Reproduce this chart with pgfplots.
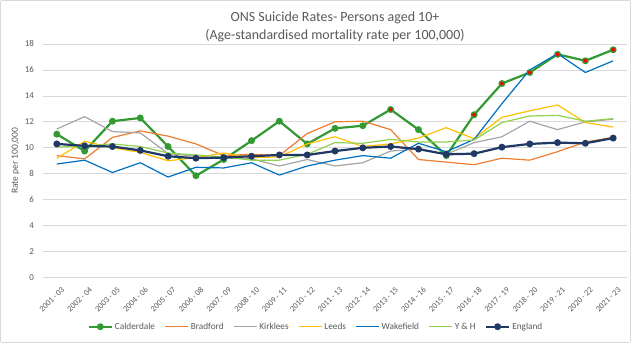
\documentclass[border=0pt]{standalone}
\usepackage{fontspec}
\setmainfont{Carlito}
\usepackage{pgfplots}
\usepackage{pgfplotstable}
\pgfplotsset{compat=1.18}
\definecolor{calc}{HTML}{339933}
\definecolor{brac}{HTML}{ED7D31}
\definecolor{kirc}{HTML}{A5A5A5}
\definecolor{leec}{HTML}{FFC000}
\definecolor{wakc}{HTML}{0070C0}
\definecolor{yhc}{HTML}{92D050}
\definecolor{engc}{HTML}{203864}
\definecolor{txtc}{HTML}{595959}
\definecolor{gridc}{HTML}{D9D9D9}

\pgfplotstableread{
x cal bra kir lee wak yh eng
0 11.05 9.40 11.45 9.20 8.75 10.05 10.30
1 9.75 9.15 12.40 10.50 9.05 10.15 10.15
2 12.05 10.80 11.25 10.00 8.10 10.30 10.10
3 12.30 11.30 11.15 9.65 8.85 10.10 9.80
4 10.10 10.90 9.55 9.00 7.75 9.60 9.35
5 7.85 10.30 9.35 9.25 8.50 9.45 9.20
6 9.10 9.40 9.20 9.60 8.45 9.30 9.25
7 10.55 9.50 9.15 9.25 8.85 9.05 9.35
8 12.05 9.40 8.60 9.30 7.90 9.05 9.45
9 10.30 11.10 9.10 10.30 8.60 9.50 9.45
10 11.50 12.00 8.60 10.85 9.05 10.40 9.75
11 11.70 12.05 8.85 10.10 9.40 10.35 10.00
12 12.95 11.40 9.75 10.30 9.20 10.65 10.10
13 11.40 9.10 9.90 10.75 10.35 10.45 9.90
14 9.40 8.90 9.50 11.55 9.70 10.45 9.50
15 12.55 8.70 10.40 10.70 10.65 10.60 9.55
16 14.95 9.20 10.85 12.35 13.40 11.95 10.05
17 15.80 9.05 12.05 12.85 16.00 12.45 10.30
18 17.20 9.70 11.40 13.30 17.25 12.50 10.40
19 16.70 10.45 12.00 11.95 15.80 12.05 10.35
20 17.55 10.80 12.20 11.60 16.70 12.25 10.75
}\data

\begin{document}
\begin{tikzpicture}[x=1bp,y=1bp]
\draw[gridc, line width=0.8bp, rounded corners=2bp] (-42.5,-64.8) rectangle (587.5,277.2);
\begin{axis}[
  at={(0,0)}, anchor=south west,
  scale only axis, width=584bp, height=233.7bp,
  clip mode=individual,
  xmin=-0.5, xmax=20.5, ymin=0, ymax=18,
  ytick={0,2,...,18},
  xtick={0,...,20},
  xticklabels={2001 - 03,2002 - 04,2003 - 05,2004 - 06,2005 - 07,2006 - 08,2007 - 09,2008 - 10,2009 - 11,2010 - 12,2011 - 13,2012 - 14,2013 - 15,2014 - 16,2015 - 17,2016 - 18,2017 - 19,2018 - 20,2019 - 21,2020 - 22,2021 - 23},
  ymajorgrids, grid style={gridc, line width=0.7bp},
  axis line style={draw=none}, major tick length=0,
  yticklabel style={font=\fontsize{9}{10}\selectfont, text=txtc, xshift=-5.5bp},
  xticklabel style={rotate=45, anchor=north east, font=\fontsize{8.3}{9}\selectfont, text=txtc, inner sep=0pt, xshift=-3bp, yshift=-9bp},
  /pgf/number format/assume math mode=true,
  ylabel={Rate per 100,000},
  ylabel style={font=\fontsize{9.5}{10}\selectfont, text=txtc, at={(axis description cs:-0.047,0.5)}, anchor=center},
  legend columns=7,
  legend style={at={(axis description cs:0.4675,-0.2097)}, anchor=center, draw=none, fill=none, font=\fontsize{9.3}{11}\selectfont, text=txtc, /tikz/every even column/.append style={column sep=7.5bp}},
  legend image code/.code={\draw[mark repeat=2,mark phase=2,#1] plot coordinates {(0bp,0bp)(11.5bp,0bp)(23bp,0bp)};},
  legend cell align=left,
]
\addplot[calc, line width=2.2bp, mark=*, mark size=2.3bp, mark options={fill=calc, draw=calc}] table[x=x,y=cal]{\data};
\addlegendentry{Calderdale}
\addplot[brac, line width=1.2bp] table[x=x,y=bra]{\data};
\addlegendentry{Bradford}
\addplot[kirc, line width=1.2bp] table[x=x,y=kir]{\data};
\addlegendentry{Kirklees}
\addplot[leec, line width=1.2bp] table[x=x,y=lee]{\data};
\addlegendentry{Leeds}
\addplot[wakc, line width=1.2bp] table[x=x,y=wak]{\data};
\addlegendentry{Wakefield}
\addplot[yhc, line width=1.2bp] table[x=x,y=yh]{\data};
\addlegendentry{Y \& H}
\addplot[engc, line width=2.2bp, mark=*, mark size=2.3bp, mark options={fill=engc, draw=engc}] table[x=x,y=eng]{\data};
\addlegendentry{England}
\addplot[only marks, forget plot, mark=*, mark size=2.3bp, mark options={fill=red, draw=calc, line width=0.6bp}] coordinates {(12,12.95) (15,12.55) (16,14.95) (17,15.80) (18,17.20) (19,16.70) (20,17.55)};
\end{axis}
\node[anchor=base, font=\fontsize{14}{16}\selectfont, text=txtc, inner sep=0pt] at (292,256.2) {ONS Suicide Rates- Persons aged 10+};
\node[anchor=base, font=\fontsize{14}{16}\selectfont, text=txtc, inner sep=0pt] at (292,237.7) {(Age-standardised mortality rate per 100,000)};
\end{tikzpicture}
\end{document}
